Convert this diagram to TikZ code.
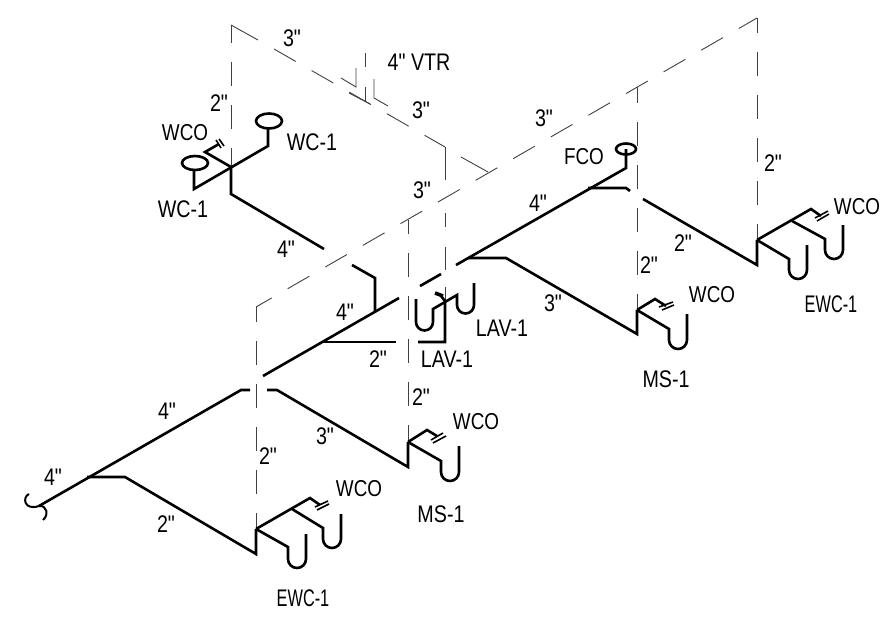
\documentclass[tikz,border=0pt]{standalone}
\usepackage{fontspec}
\newfontfamily\pipefont[FakeStretch=0.82]{Liberation Sans}
\newfontfamily\ewcfont[FakeStretch=0.68]{Liberation Sans}
\tikzset{
  pipe/.style={line width=2.6pt, line join=miter},
  vent/.style={line width=0.9pt, color=black!75},
  ventdash/.style={vent, dash pattern=on 24pt off 19pt, dash phase=#1},
  ventslope/.style={vent, dash pattern=on 25pt off 18.4pt, dash phase=#1},
  size/.style={inner sep=0pt, font=\pipefont\fontsize{24}{24}\selectfont},
  fixture/.style={inner sep=0pt, font=\pipefont\fontsize{24}{24}\selectfont},
  cleanout/.style={inner sep=0pt, font=\pipefont\fontsize{23}{23}\selectfont},
  ewc/.style={inner sep=0pt, font=\ewcfont\fontsize{24}{24}\selectfont}
}
\begin{document}
\begin{tikzpicture}[x=1pt, y=-1pt]
  \useasboundingbox (0,0) rectangle (880,618);

  \draw[vent] (231,25) -- (258,40);
  \draw[ventslope=0pt] (274,49) -- (445,147);
  \draw[vent] (461,157) -- (488,172);
  \draw[ventslope=4pt] (757,18) -- (256,307);
  \draw[vent] (341,78) -- (356,87) -- (356,68);
  \draw[vent] (349,93) -- (370,104);
  \draw[vent] (365,53) -- (365,67); \draw[vent] (365,87) -- (365,102);
  \draw[vent] (374,79) -- (374,98) -- (388,106);

  \draw[ventdash=6pt] (231,25) -- (231,167);
  \draw[ventdash=9pt] (256,307) -- (256,528);
  \draw[ventdash=10pt] (408,220) -- (408,442);
  \draw[ventdash=8pt] (637,87) -- (637,310);
  \draw[ventdash=9pt] (757,18) -- (757,240);
  \draw[vent] (445,147) -- (445,180); \draw[vent] (445,213) -- (445,227);
  \draw[vent] (445,247) -- (445,270); \draw[vent] (445,287) -- (445,302);

  \draw[pipe] (194,170) -- (194,189) -- (268,146) -- (268,128);
  \draw[pipe] (195,163) ellipse (13 and 7);
  \draw[pipe] (269,121) ellipse (13 and 7.5);
  \draw[pipe] (231,167) -- (205,152) -- (219,144);
  \draw[line width=1.6pt] (216,140) -- (221,148); \draw[line width=1.6pt] (219,139) -- (224,146);
  \draw[pipe] (231,167) -- (231,194) -- (324,249);
  \draw[pipe] (352,265) -- (375,278) -- (375,312);

  \draw[pipe] (39,506) -- (241,390) -- (250,390);
  \draw[line width=2pt] (29,494) .. controls (22,497) and (24,511) .. (39,506) .. controls (47,505) and (49,515) .. (43,520);
  \draw[pipe] (87,477) -- (125,477) -- (256,554) -- (256,529);
  \draw[pipe] (256,529) -- (288,547) -- (288,559) arc (180:0:9) -- (306,534);
  \draw[pipe] (256,529) -- (310,498) -- (320,505);
  \draw[line width=1.6pt] (315,507) -- (328,501); \draw[line width=1.6pt] (317,510) -- (329,504);
  \draw[pipe] (292,509) -- (323,528) -- (323,539) arc (180:0:9) -- (341,514);

  \draw[pipe] (267,390) -- (277,390) -- (408,467) -- (408,442);
  \draw[pipe] (408,442) -- (441,461) -- (441,472) arc (180:0:9) -- (459,446);
  \draw[pipe] (408,442) -- (427,430) -- (437,436);
  \draw[line width=1.6pt] (431,440) -- (443,433); \draw[line width=1.6pt] (433,443) -- (446,436);

  \draw[pipe] (263,376) -- (399,298);
  \draw[pipe] (323,342) -- (396,342);
  \draw[pipe] (418,342) -- (445,342) -- (445,301) -- (441,296);
  \draw[line width=3.6pt] (435,293) -- (443,296);
  \draw[pipe] (416,299) -- (416,322) arc (180:0:8.5) -- (433,309) -- (457,295) -- (457,305) arc (180:0:8.5) -- (474,283);
  \draw[pipe] (420,286) -- (441,274);

  \draw[pipe] (456,265) -- (626,168) -- (626,149);
  \draw[pipe] (626,149) ellipse (10 and 5.5);
  \draw[pipe] (588,188) -- (626,188) -- (630,191);
  \draw[pipe] (468,258) -- (506,258) -- (637,334) -- (637,310);
  \draw[pipe] (637,310) -- (669,329) -- (669,340) arc (180:0:9) -- (687,314);
  \draw[pipe] (637,310) -- (655,299) -- (666,306);
  \draw[line width=1.6pt] (659,307) -- (673,302); \draw[line width=1.6pt] (662,310) -- (674,305);

  \draw[pipe] (643,199) -- (757,265) -- (757,240);
  \draw[pipe] (757,240) -- (789,259) -- (789,270) arc (180:0:9) -- (807,245);
  \draw[pipe] (757,240) -- (811,209) -- (821,216);
  \draw[line width=1.6pt] (815,218) -- (828,211); \draw[line width=1.6pt] (817,221) -- (829,214);
  \draw[pipe] (792,221) -- (825,239) -- (825,250) arc (180:0:9) -- (843,225);

  \draw (292,38) node[size] (sizetopa) {3"};
  \draw (419,62) node[size] (vtr) {4" VTR};
  \draw (421,110) node[size] (sizetopb) {3"};
  \draw (422,190) node[size] (sizetopc) {3"};
  \draw (219,103) node[size] (sizewc) {2"};
  \draw (185,133) node[cleanout] (wcowc) {WCO};
  \draw (312,142) node[fixture] (wcright) {WC-1};
  \draw (183,209) node[fixture] (wcleft) {WC-1};
  \draw (544,118) node[size] (sizemid) {3"};
  \draw (584,157) node[cleanout] (fco) {FCO};
  \draw (538,203) node[size] (sizefco) {4"};
  \draw (773,163) node[size] (sizeewcb) {2"};
  \draw (286,249) node[size] (sizewcb) {4"};
  \draw (345,312) node[size] (sizemaina) {4"};
  \draw (378,359) node[size] (sizelav) {2"};
  \draw (447,359) node[fixture] (lavleft) {LAV-1};
  \draw (502,328) node[fixture] (lavright) {LAV-1};
  \draw (553,303) node[size] (sizemsb) {3"};
  \draw (683,243) node[size] (sizeewcc) {2"};
  \draw (649,265) node[size] (sizemsc) {2"};
  \draw (712,295) node[cleanout] (wcomsb) {WCO};
  \draw (857,207) node[cleanout] (wcoewcb) {WCO};
  \draw (831,304) node[ewc] (ewcb) {EWC-1};
  \draw (666,379) node[fixture] (msb) {MS-1};
  \draw (421,397) node[size] (sizemsd) {2"};
  \draw (325,436) node[size] (sizemsa) {3"};
  \draw (268,456) node[size] (sizeewcd) {2"};
  \draw (167,411) node[size] (sizemainb) {4"};
  \draw (53,477) node[size] (sizemainc) {4"};
  \draw (166,524) node[size] (sizeewca) {2"};
  \draw (359,489) node[cleanout] (wcoewca) {WCO};
  \draw (303,598) node[ewc] (ewca) {EWC-1};
  \draw (476,422) node[cleanout] (wcomsa) {WCO};
  \draw (441,514) node[fixture] (msa) {MS-1};
\end{tikzpicture}
\end{document}
